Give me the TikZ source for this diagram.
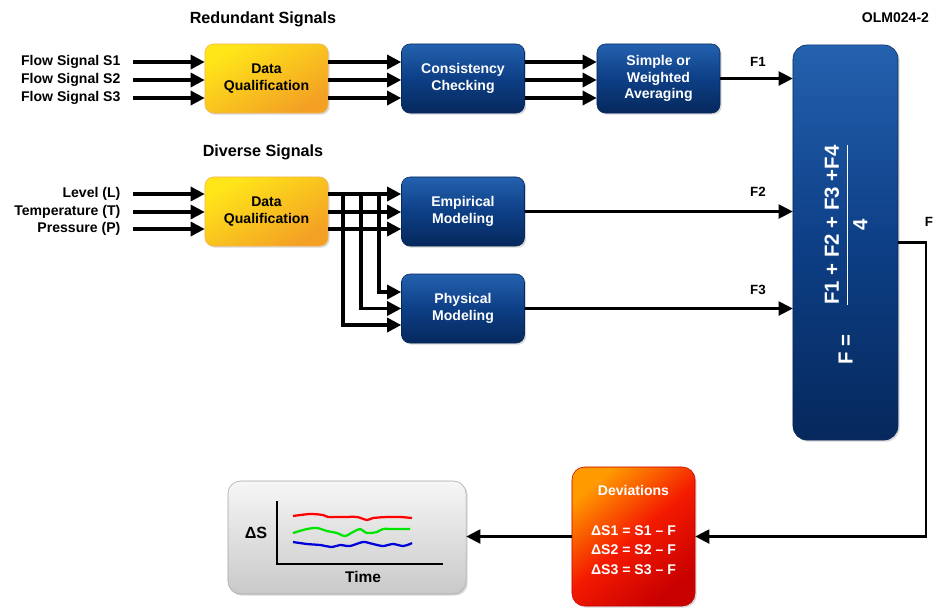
\documentclass[tikz,border=0pt]{standalone}
\usepackage{fontspec}
\setmainfont{Liberation Sans}
\usepackage{amsmath}
\usetikzlibrary{calc,arrows.meta,shadows}

\definecolor{navytop}{HTML}{2461AE}
\definecolor{navymid}{HTML}{0D3F86}
\definecolor{navybot}{HTML}{06285C}
\definecolor{goldtop}{HTML}{FFE619}
\definecolor{goldbot}{HTML}{F3A024}
\definecolor{devtop}{HTML}{FF9A00}
\definecolor{devmid}{HTML}{F41A00}
\definecolor{devbot}{HTML}{C80000}
\definecolor{greytop}{HTML}{F6F6F6}
\definecolor{greybot}{HTML}{C9C9C9}

\newcommand\boxfont{\fontsize{10}{12}\selectfont\bfseries}
\newcommand\lblfont{\fontsize{10}{12}\selectfont\bfseries}
\newcommand\ttlfont{\fontsize{11.5}{13}\selectfont\bfseries}

\tikzset{%
  >={Triangle[length=10pt,width=10pt]}, % big solid heads
  box/.style={rounded corners=6pt, minimum width=3.075cm, minimum height=1.725cm,
    align=center, font=\boxfont,
    drop shadow={opacity=0.3,shadow xshift=1.2pt,shadow yshift=-1.2pt}},
  bluebox/.style={box, top color=navytop, bottom color=navybot, middle color=navymid,
    draw=navybot, text=white},
  goldbox/.style={box, top color=goldtop, bottom color=goldbot, shading angle=30,
    draw=goldbot!80!white, text=black},
  lbl/.style={font=\lblfont, inner sep=0pt, outer sep=9pt},
  flbl/.style={font=\fontsize{9.5}{11}\selectfont\bfseries},
  ttl/.style={font=\ttlfont},
  fat/.style={->, line width=2.2pt},
  thin/.style={->, line width=1.5pt}
}

\begin{document}
\begin{tikzpicture}[x=0.025cm, y=-0.025cm] % pixel grid, y downwards

    \useasboundingbox (0,0) rectangle (935,608);

    % titles
    \node[ttl] (red) at (263,19) {Redundant Signals};
    \node[ttl] (div) at (263,152) {Diverse Signals};
    \node[flbl, anchor=east, font=\lblfont] (olm) at (934,18) {OLM024-2};

    % redundant branch
    \node[goldbox] (dq1) at (266.5,78.5) {Data\\Qualification};
    \node[bluebox] (cc) at (463,78.5) {Consistency\\Checking};
    \node[bluebox] (avg) at (658.5,78.5) {Simple or\\Weighted\\Averaging};

    \node[lbl, anchor=east] (s1) at (133,62) {Flow Signal S1};
    \node[lbl, anchor=east] (s2) at (133,80) {Flow Signal S2};
    \node[lbl, anchor=east] (s3) at (133,98) {Flow Signal S3};

    \foreach \s in {s1,s2,s3}{
      \draw[fat] (\s.east) -- (\s -| dq1.west);
      \draw[fat] (\s -| dq1.east) -- (\s -| cc.west);
      \draw[fat] (\s -| cc.east) -- (\s -| avg.west);
    }

    % diverse branch
    \node[goldbox] (dq2) at (266.5,211.5) {Data\\Qualification};
    \node[bluebox] (emp) at (463,211.5) {Empirical\\Modeling};
    \node[bluebox] (phys) at (463,308.5) {Physical\\Modeling};

    \node[lbl, anchor=east] (lvl) at (133,194) {Level (L)};
    \node[lbl, anchor=east] (tmp) at (133,212) {Temperature (T)};
    \node[lbl, anchor=east] (prs) at (133,229) {Pressure (P)};

    \foreach \s in {lvl,tmp,prs}{
      \draw[fat] (\s.east) -- (\s -| dq2.west);
      \draw[fat] (\s -| dq2.east) -- (\s -| emp.west);
    }
    \coordinate (b1) at (379,194);
    \coordinate (b2) at (361,194);
    \coordinate (b3) at (343,194);
    \draw[fat] (b1) |- ($(phys.west)+(0,-16.5)$);
    \draw[fat] (b2) |- (phys.west);
    \draw[fat] (b3) |- ($(phys.west)+(0,16.5)$);

    % combining block
    \node[bluebox, rounded corners=10pt, minimum width=2.625cm, minimum height=9.875cm]
      (fbox) at (845.5,242.5) {};
    \node[rotate=90, text=white, font=\fontsize{14.5}{16}\selectfont\bfseries] (fform)
      at (846,254) {F =\hspace{20pt}$\genfrac{}{}{1.2pt}{0}{\text{F1 + F2 + F3 +F4}}{\text{4}}$};

    \draw[thin] (avg.east) -- (avg.east -| fbox.west);
    \draw[thin] (emp.east) -- (emp.east -| fbox.west);
    \draw[thin] (phys.east) -- (phys.east -| fbox.west);
    \node[flbl] (f1) at (758,62) {F1};
    \node[flbl] (f2) at (758,192) {F2};
    \node[flbl] (f3) at (758,290) {F3};
    \node[flbl] (fout) at (929,222) {F};

    % deviations
    \node[box, minimum height=3.475cm, rounded corners=9pt, top color=devtop,
      bottom color=devbot, middle color=devmid, shading angle=40, draw=devbot]
      (dev) at (633.5,536.5) {};
    \node[font=\boxfont, text=white, align=center] (devtxt) at (633.5,530)
      {Deviations\\[16.4pt]
       ΔS1 = S1 -- F\\[2.2pt]ΔS2 = S2 -- F\\[2.2pt]ΔS3 = S3 -- F};

    \draw[thin] (fbox.east) -- ++(28,0) |- (dev.east);

    % trend plot
    \node[box, minimum width=5.95cm, minimum height=2.825cm, rounded corners=9pt,
      top color=greytop, bottom color=greybot, draw=black!35] (graph) at (347,537.5) {};
    \draw[thin] (dev.west) -- (dev.west -| graph.east);

    \draw[line width=1.1pt] (277,501) |- (443,564);
    \node[font=\fontsize{11.5}{13}\selectfont\bfseries] (ds) at (256,533) {ΔS};
    \node[font=\fontsize{11}{13}\selectfont\bfseries] (time) at (363,577) {Time};
    \draw[red, line width=1.6pt] plot[smooth] coordinates {(293,516) (310,514) (323,515)
      (328,517) (343,517) (357,517) (367,520) (373,518) (387,517) (400,517) (412,518)};
    \draw[green!90!black, line width=1.6pt] plot[smooth] coordinates {(293,533) (307,529)
      (317,528) (327,531) (337,533) (345,536) (353,532) (360,529) (367,533) (377,532)
      (383,529) (393,529) (410,529)};
    \draw[blue!85!black, line width=1.6pt] plot[smooth] coordinates {(293,542) (307,544)
      (320,545) (332,547) (340,545) (350,546) (363,542) (373,544) (383,546) (393,544)
      (403,546) (410,544) (412,543)};

\end{tikzpicture}
\end{document}
